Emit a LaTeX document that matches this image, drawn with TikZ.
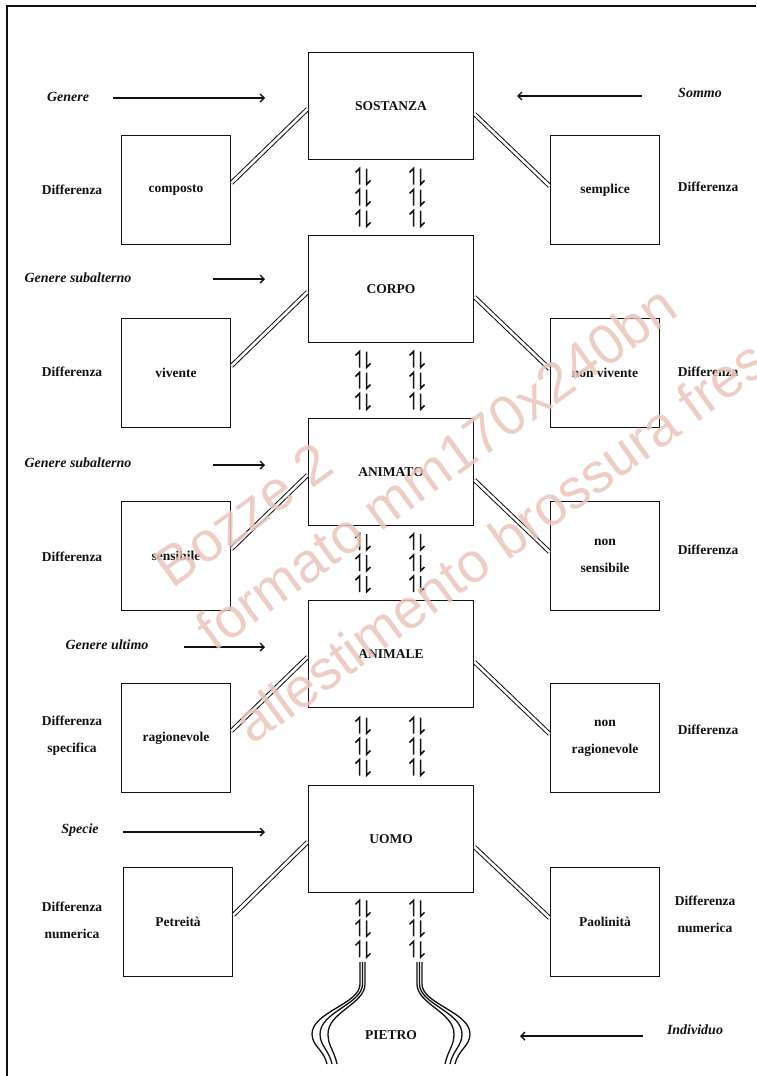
\documentclass[tikz,border=0pt]{standalone}
\usepackage{amsmath,amssymb}
\usepackage{fontspec}
\setmainfont{Liberation Serif}
\newfontfamily\wmfont{Liberation Sans}
\usepackage{tikz}
\usetikzlibrary{calc,arrows.meta,positioning}
\definecolor{ink}{HTML}{111111}
\definecolor{wmark}{HTML}{EAC6BD}
\tikzset{
  frame/.style={draw=ink, line width=1.8pt},
  mainbox/.style={draw=ink, line width=1.8pt, minimum width=165pt, minimum height=107pt, inner sep=0pt},
  sidebox/.style={draw=ink, line width=1.7pt, minimum width=109pt, minimum height=109pt, inner sep=0pt, align=center},
  link/.style={draw=ink, double=white, double distance=2.6pt, line width=1pt},
  pointer/.style={draw=ink, line width=1.4pt, -{Straight Barb[length=4pt,width=8pt]}},
  labd/.style={align=center},
  labg/.style={font=\bfseries\itshape\fontsize{14}{16}\selectfont},
  strand/.style={draw=ink, line width=1.3pt},
  wm/.style={text=wmark, text opacity=0.85, rotate=36, anchor=base west, font=\wmfont\fontsize{56}{56}\selectfont},
  every node/.style={text=ink, font=\bfseries\fontsize{13.5}{27}\selectfont},
  harp/.pic={
    \draw[ink, line width=1.5pt] (-3.5,8) -- (-3.5,-8) -- (-7.5,-4);
    \draw[ink, line width=1.5pt] (3.5,-8) -- (3.5,8) -- (7.5,4);
  }
}

\begin{document}
\begin{tikzpicture}[x=1pt, y=-1pt]
  \useasboundingbox (0,0) rectangle (756,1076);
  \draw[frame] (7,1076) -- (7,6) -- (756,6);

  % central chain
  \node[mainbox] (sost) at (391,106) {SOSTANZA};
  \node[mainbox] (corpo) at (391,289) {CORPO};
  \node[mainbox] (anim) at (391,472) {ANIMATO};
  \node[mainbox] (anml) at (391,654) {ANIMALE};
  \node[mainbox] (uomo) at (391,839) {UOMO};
  \node (pietro) at (391,1035) {PIETRO};

  % differences
  \node[sidebox] (sostL) at (176,190) {composto};
  \node[sidebox] (sostR) at (605,190) {semplice};
  \node[sidebox] (corpoL) at (176,373) {vivente};
  \node[sidebox] (corpoR) at (605,373) {non vivente};
  \node[sidebox] (animL) at (176,556) {sensibile};
  \node[sidebox] (animR) at (605,556) {non\\sensibile};
  \node[sidebox] (anmlL) at (176,738) {ragionevole};
  \node[sidebox] (anmlR) at (605,738) {non\\ragionevole};
  \node[sidebox] (uomoL) at (178,922) {Petreità};
  \node[sidebox] (uomoR) at (605,922) {Paolinità};

  \foreach \m in {sost,corpo,anim,anml,uomo} {
    \draw[link] ([yshift=-3pt]\m.west) -- ([yshift=7pt]\m L.east);
    \draw[link] ([yshift=-8pt]\m.east) -- ([yshift=4pt]\m R.west);
  }

  % harpoons
  \foreach \a/\b in {sost/corpo,corpo/anim,anim/anml,anml/uomo}
    \foreach \dy in {-21,0,21} {
      \pic at ($(\a.south)!0.5!(\b.north)+(-28,\dy)$) {harp};
      \pic at ($(\a.south)!0.5!(\b.north)+(26,\dy)$) {harp};
    }
  \foreach \dy in {15,35,56} {
    \pic at ($(uomo.south)+(-28,\dy)$) {harp};
    \pic at ($(uomo.south)+(26,\dy)$) {harp};
  }

  % strands towards the individual
  \foreach \i in {0,1,2} {
    \draw[strand] (360+2.5*\i,962) -- (360+2.5*\i,984)
      .. controls (360+2.5*\i,1004) and (312+8*\i,1012) .. (312+8*\i,1034)
      .. controls (312+8*\i,1046) and (324+5*\i,1050) .. (327+5*\i,1064);
    \draw[strand] (422-2.5*\i,962) -- (422-2.5*\i,984)
      .. controls (422-2.5*\i,1004) and (470-8*\i,1012) .. (470-8*\i,1034)
      .. controls (470-8*\i,1046) and (458-5*\i,1050) .. (455-5*\i,1064);
  }

  % left labels
  \node[labg] (gen1) at (68,97) {Genere};
  \node[labg] (gen2) at (78,278) {Genere subalterno};
  \node[labg] (gen3) at (78,463) {Genere subalterno};
  \node[labg] (gen4) at (107,645) {Genere ultimo};
  \node[labg] (gen5) at (80,830) {Specie};
  \node[labg] (somm) at (700,93) {Sommo};
  \node[labg] (indiv) at (695,1030) {Individuo};

  \coordinate (g1s) at (113,98);  \coordinate (g1e) at (265,98);
  \coordinate (g2s) at (213,279); \coordinate (g2e) at (265,279);
  \coordinate (g3s) at (213,465); \coordinate (g3e) at (265,465);
  \coordinate (g4s) at (184,647); \coordinate (g4e) at (265,647);
  \coordinate (g5s) at (123,832); \coordinate (g5e) at (265,832);
  \coordinate (sms) at (642,96);  \coordinate (sme) at (517,96);
  \coordinate (ins) at (643,1036); \coordinate (ine) at (520,1036);
  \foreach \s/\e in {g1s/g1e,g2s/g2e,g3s/g3e,g4s/g4e,g5s/g5e,sms/sme,ins/ine}
    \draw[pointer] (\s) -- (\e);

  \node[labd] (dL1) at (72,190) {Differenza};
  \node[labd] (dL2) at (72,372) {Differenza};
  \node[labd] (dL3) at (72,557) {Differenza};
  \node[labd] (dL4) at (72,736) {Differenza\\specifica};
  \node[labd] (dL5) at (72,920) {Differenza\\numerica};
  \node[labd] (dR1) at (708,187) {Differenza};
  \node[labd] (dR2) at (708,372) {Differenza};
  \node[labd] (dR3) at (708,550) {Differenza};
  \node[labd] (dR4) at (708,730) {Differenza};
  \node[labd] (dR5) at (705,914) {Differenza\\numerica};

  % proof stamp
  \node[wm] (wm1) at (170,592) {Bozze 2};
  \node[wm] (wm2) at (212,655) {formato mm170x240bn};
  \node[wm] (wm3) at (250,748) {allestimento brossura fresata};
\end{tikzpicture}
\end{document}
